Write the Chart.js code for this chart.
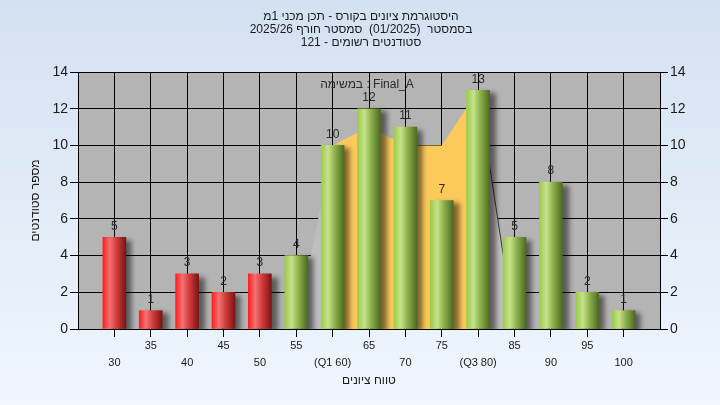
<!DOCTYPE html>
<html>
<head>
<meta charset="utf-8">
<script src="https://cdn.jsdelivr.net/npm/chart.js@4.4.1/dist/chart.umd.min.js"></script>
<style>
  html, body { margin: 0; padding: 0; }
  body { width: 720px; height: 405px; overflow: hidden; }
  #wrap { position: relative; width: 720px; height: 405px; }
</style>
</head>
<body>
<div id="wrap"><canvas id="hist" width="720" height="405"></canvas></div>
<script>
// grade bins (x) and number of students in each
const categories = [30, 35, 40, 45, 50, 55, 60, 65, 70, 75, 80, 85, 90, 95, 100];
const xTickLabels = ['30', '35', '40', '45', '50', '55', '(Q1 60)', '65', '70', '75', '(Q3 80)', '85', '90', '95', '100'];
const studentCounts = [5, 1, 3, 2, 3, 4, 10, 12, 11, 7, 13, 5, 8, 2, 1];
const passGrade = 55;

// background area (Final_A), orange part between Q1 and Q3, gray edges
const areaX = [55, 60, 65, 70, 75, 80, 85];
const areaCore = [null, 10, 11, 10, 10, 13, null];
const areaEdge = [0, 10, null, null, null, 13, 0];

const titleLines = [
  'היסטוגרמת ציונים בקורס - תכן מכני 1מ',
  'בסמסטר  (01/2025)  סמסטר חורף 2025/26',
  'סטודנטים רשומים - 121'
];
const taskLabel = 'Final_A : במשימה';
const xTitle = 'טווח ציונים';
const yTitle = 'מספר סטודנטים';

const FONT = "'Liberation Sans', Arial, sans-serif";

function barGradient(ctx, x0, x1, red) {
  const g = ctx.createLinearGradient(x0, 0, x1, 0);
  if (red) {
    g.addColorStop(0, '#ff1e1e');
    g.addColorStop(0.3, '#f27272');
    g.addColorStop(0.6, '#d23a3a');
    g.addColorStop(1, '#7a1414');
  } else {
    g.addColorStop(0, '#9ccb48');
    g.addColorStop(0.3, '#c6e28c');
    g.addColorStop(0.6, '#8db04a');
    g.addColorStop(1, '#4d6a22');
  }
  return g;
}

const backdrop = {
  id: 'backdrop',
  beforeDraw(chart) {
    const { ctx, width, height, chartArea: a } = chart;
    ctx.save();
    const bg = ctx.createLinearGradient(0, 0, 0, height);
    bg.addColorStop(0, '#d4e1f2');
    bg.addColorStop(1, '#eff6fd');
    ctx.fillStyle = bg;
    ctx.fillRect(0, 0, width, height);
    ctx.fillStyle = '#b4b4b4';
    ctx.fillRect(a.left, a.top, a.right - a.left, a.bottom - a.top);
    // hebrew texts, right-to-left
    ctx.direction = 'rtl';
    ctx.fillStyle = '#1a1a1a';
    ctx.font = '12px ' + FONT;
    ctx.textAlign = 'center';
    ctx.textBaseline = 'middle';
    titleLines.forEach((t, i) => ctx.fillText(t, 361, 17 + i * 13));
    ctx.fillText(xTitle, (a.left + a.right) / 2, 381);
    ctx.restore();
  },
  afterDraw(chart) {
    const { ctx } = chart;
    ctx.save();
    ctx.direction = 'rtl';
    ctx.fillStyle = '#2a2a2a';
    ctx.font = '12px ' + FONT;
    ctx.textAlign = 'center';
    ctx.textBaseline = 'middle';
    ctx.fillText(taskLabel, 367, 85);
    ctx.restore();
  }
};

const barShadow = {
  id: 'barShadow',
  beforeDatasetDraw(chart, args) {
    if (args.meta.type !== 'bar') return;
    const ctx = chart.ctx;
    ctx.save();
    ctx.shadowColor = 'rgba(0,0,0,0.5)';
    ctx.shadowBlur = 5;
    ctx.shadowOffsetX = 6;
    ctx.shadowOffsetY = 3;
  },
  afterDatasetDraw(chart, args) {
    if (args.meta.type !== 'bar') return;
    chart.ctx.restore();
  }
};

const valueLabels = {
  id: 'valueLabels',
  afterDatasetsDraw(chart) {
    const ctx = chart.ctx;
    const meta = chart.getDatasetMeta(0);
    ctx.save();
    ctx.fillStyle = '#2a2a2a';
    ctx.font = '12px ' + FONT;
    ctx.textAlign = 'center';
    ctx.textBaseline = 'middle';
    meta.data.forEach((el, i) => {
      ctx.fillText(String(studentCounts[i]), el.x, el.y - 11);
    });
    ctx.restore();
  }
};

new Chart(document.getElementById('hist'), {
  data: {
    datasets: [
      {
        type: 'bar',
        order: 0,
        data: categories.map((c, i) => ({ x: c, y: studentCounts[i] })),
        barThickness: 23,
        borderWidth: 0,
        backgroundColor: (c) => {
          const chart = c.chart;
          if (!chart.chartArea || c.raw === undefined) return '#888';
          const px = chart.scales.x.getPixelForValue(c.raw.x);
          return barGradient(chart.ctx, px - 11.5, px + 11.5, c.raw.x < passGrade);
        }
      },
      {
        type: 'line',
        order: 2,
        data: areaX.map((x, i) => ({ x: x, y: areaEdge[i] })),
        fill: 'origin',
        backgroundColor: '#bebebe',
        borderWidth: 1,
        spanGaps: false,
        pointRadius: 0,
        segment: {
          borderColor: (s) => s.p0.parsed.x === 80 ? '#3a3a3a' : 'rgba(0,0,0,0)'
        }
      },
      {
        type: 'line',
        order: 1,
        data: areaX.map((x, i) => ({ x: x, y: areaCore[i] })),
        fill: 'origin',
        backgroundColor: '#fdc95b',
        borderWidth: 0,
        borderColor: 'rgba(0,0,0,0)',
        spanGaps: false,
        pointRadius: 0
      }
    ]
  },
  options: {
    responsive: false,
    animation: false,
    events: [],
    layout: { padding: { top: 72, left: 0, right: 0, bottom: 0 } },
    plugins: {
      legend: { display: false },
      tooltip: { enabled: false }
    },
    scales: {
      x: {
        type: 'linear',
        min: 25,
        max: 105,
        offset: false,
        afterBuildTicks: (scale) => {
          scale.ticks = categories.map(v => ({ value: v }));
        },
        afterFit: (scale) => { scale.height = 76; },
        grid: { color: '#000', lineWidth: 1, tickLength: 8, drawTicks: true, offset: false },
        border: { color: '#000', width: 1 },
        ticks: {
          autoSkip: false,
          maxRotation: 0,
          padding: 1,
          color: '#1a1a1a',
          font: { family: FONT, size: 11, lineHeight: 1.5 },
          callback: (v) => {
            const i = categories.indexOf(v);
            if (i < 0) return '';
            return i % 2 === 0 ? ['', xTickLabels[i]] : xTickLabels[i];
          }
        }
      },
      y: {
        position: 'left',
        min: 0,
        max: 14,
        afterFit: (scale) => { scale.width = 78; },
        grid: { color: '#000', lineWidth: 1, tickLength: 8 },
        border: { color: '#000', width: 1 },
        ticks: {
          stepSize: 2,
          padding: 2,
          color: '#1a1a1a',
          font: { family: FONT, size: 14 }
        },
        title: {
          display: true,
          text: yTitle,
          color: '#1a1a1a',
          font: { family: FONT, size: 12 },
          padding: { top: 28, bottom: 0 }
        }
      },
      y2: {
        position: 'right',
        min: 0,
        max: 14,
        afterFit: (scale) => { scale.width = 60; },
        grid: { color: '#000', lineWidth: 1, tickLength: 8, drawOnChartArea: false },
        border: { color: '#000', width: 1 },
        ticks: {
          stepSize: 2,
          padding: 2,
          color: '#1a1a1a',
          font: { family: FONT, size: 14 }
        }
      }
    }
  },
  plugins: [backdrop, barShadow, valueLabels]
});
</script>
</body>
</html>
